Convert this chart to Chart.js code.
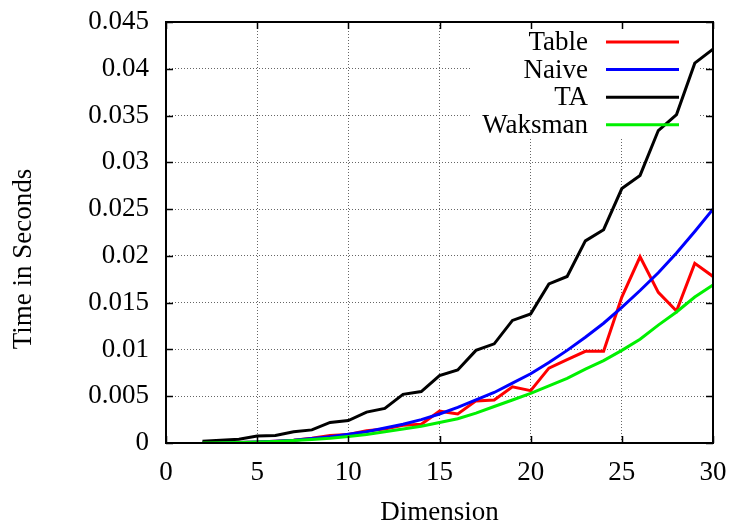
<!DOCTYPE html>
<html>
<head>
<meta charset="utf-8">
<script src="https://cdn.jsdelivr.net/npm/chart.js@4"></script>
<style>
  body { margin: 0; background: #fff; }
  #wrap { width: 732px; height: 523px; }
</style>
</head>
<body>
<div id="wrap"><canvas id="grafica" width="732" height="523"></canvas></div>
<script>
// Datos
const dimensiones = [2, 3, 4, 5, 6, 7, 8, 9, 10, 11, 12, 13, 14, 15, 16, 17, 18, 19, 20, 21, 22, 23, 24, 25, 26, 27, 28, 29, 30];
const tiemposTable = [0.00001, 0.00003, 0.00006, 0.0001, 0.0002, 0.0003, 0.0005, 0.0008, 0.0009, 0.0013, 0.0015, 0.0019, 0.0020, 0.0034, 0.0031,
    0.0045, 0.0046, 0.0060, 0.0056, 0.0080, 0.0089, 0.0098, 0.0098, 0.0156, 0.0199, 0.0161, 0.0141, 0.0192, 0.0178];
const tiemposNaive = [0.00001, 0.00003, 0.00006, 0.00012, 0.0002, 0.0003, 0.00047, 0.00068, 0.00093, 0.0012, 0.0016, 0.0020, 0.0025, 0.0031, 0.0038,
    0.0046, 0.0054, 0.0064, 0.0074, 0.0086, 0.0099, 0.0113, 0.0128, 0.0145, 0.0163, 0.0182, 0.0203, 0.0226, 0.0250];
const tiemposTA = [0.0002, 0.0003, 0.0004, 0.00075, 0.0008, 0.0012, 0.0014, 0.0022, 0.0024, 0.0033, 0.0037, 0.0052, 0.0055, 0.0072, 0.0078,
    0.0099, 0.0106, 0.0131, 0.0138, 0.0170, 0.0178, 0.0216, 0.0228, 0.0272, 0.0286, 0.0334, 0.0351, 0.0406, 0.0421];
const tiemposWaksman = [0.00001, 0.00002, 0.00005, 0.0001, 0.00017, 0.00026, 0.00037, 0.0005, 0.0007, 0.0009, 0.0012, 0.0015, 0.0018, 0.0022, 0.0026,
    0.0032, 0.0039, 0.0046, 0.0053, 0.0061, 0.0069, 0.0079, 0.0088, 0.0099, 0.0111, 0.0126, 0.0140, 0.0156, 0.0169];

const nombresSeries = ['Table', 'Naive', 'TA', 'Waksman'];
const coloresSeries = ['#ff0000', '#0000ff', '#000000', '#00f000'];
const valoresSeries = [tiemposTable, tiemposNaive, tiemposTA, tiemposWaksman];

const tituloX = 'Dimension';
const tituloY = 'Time in Seconds';
const fuente = '"Liberation Serif", "Times New Roman", serif';
const tamFuente = 27;

// marco, marcas hacia dentro, leyenda y titulos al estilo gnuplot
const marcoGnuplot = {
    id: 'marcoGnuplot',
    beforeDatasetsDraw(chart) {
        const ctx = chart.ctx;
        ctx.save();
        ctx.fillStyle = '#ffffff';
        ctx.fillRect(472, 23, 226, 115); // fondo de la leyenda
        ctx.restore();
    },
    afterDatasetsDraw(chart) {
        const ctx = chart.ctx;
        const a = chart.chartArea;
        const sx = chart.scales.x;
        const sy = chart.scales.y;
        ctx.save();
        ctx.strokeStyle = '#000';
        ctx.lineWidth = 1.5;
        ctx.beginPath();
        sx.ticks.forEach(t => {
            const px = Math.round(sx.getPixelForValue(t.value)) + 0.5;
            ctx.moveTo(px, a.bottom); ctx.lineTo(px, a.bottom - 7);
            ctx.moveTo(px, a.top); ctx.lineTo(px, a.top + 7);
        });
        sy.ticks.forEach(t => {
            const py = Math.round(sy.getPixelForValue(t.value)) + 0.5;
            ctx.moveTo(a.left, py); ctx.lineTo(a.left + 7, py);
            ctx.moveTo(a.right, py); ctx.lineTo(a.right - 7, py);
        });
        ctx.stroke();
        ctx.lineWidth = 2;
        ctx.strokeRect(a.left, a.top, a.right - a.left, a.bottom - a.top);

        // leyenda: texto a la izquierda, linea a la derecha
        ctx.font = tamFuente + 'px ' + fuente;
        ctx.fillStyle = '#000';
        ctx.textAlign = 'right';
        ctx.textBaseline = 'middle';
        chart.data.datasets.forEach((ds, i) => {
            const y = 42 + i * 27.6;
            ctx.fillText(ds.label, 588, y + 1);
            ctx.strokeStyle = ds.borderColor;
            ctx.lineWidth = 3;
            ctx.beginPath();
            ctx.moveTo(606, y);
            ctx.lineTo(679, y);
            ctx.stroke();
        });

        // titulos de ejes
        ctx.textAlign = 'center';
        ctx.fillText(tituloX, (a.left + a.right) / 2, 513);
        ctx.translate(24, 259);
        ctx.rotate(-Math.PI / 2);
        ctx.fillText(tituloY, 0, 0);
        ctx.restore();
    }
};

const datasets = valoresSeries.map((vals, i) => ({
    label: nombresSeries[i],
    data: dimensiones.map((d, j) => ({ x: d, y: vals[j] })),
    borderColor: coloresSeries[i],
    backgroundColor: coloresSeries[i],
    borderWidth: 3,
    pointRadius: 0,
    tension: 0,
    fill: false,
    order: nombresSeries.length - i
}));

new Chart(document.getElementById('grafica'), {
    type: 'line',
    data: { datasets },
    plugins: [marcoGnuplot],
    options: {
        responsive: false,
        animation: false,
        layout: { padding: { top: 22, right: 19, left: 0, bottom: 0 } },
        plugins: {
            legend: { display: false },
            tooltip: { enabled: false }
        },
        scales: {
            x: {
                type: 'linear',
                min: 0,
                max: 30,
                ticks: {
                    stepSize: 5,
                    padding: 14,
                    color: '#000',
                    font: { family: fuente, size: tamFuente }
                },
                grid: { color: '#666', lineWidth: 1, drawTicks: false },
                border: { display: false, dash: [1, 2] },
                afterFit: s => { s.height = 80; s.paddingLeft = 0; s.paddingRight = 0; }
            },
            y: {
                min: 0,
                max: 0.045,
                ticks: {
                    stepSize: 0.005,
                    padding: 17,
                    color: '#000',
                    font: { family: fuente, size: tamFuente },
                    callback: v => String(parseFloat(v.toFixed(3)))
                },
                grid: { color: '#666', lineWidth: 1, drawTicks: false },
                border: { display: false, dash: [1, 2] },
                afterFit: s => { s.width = 166; s.paddingTop = 0; s.paddingBottom = 0; }
            }
        }
    }
});
</script>
</body>
</html>
